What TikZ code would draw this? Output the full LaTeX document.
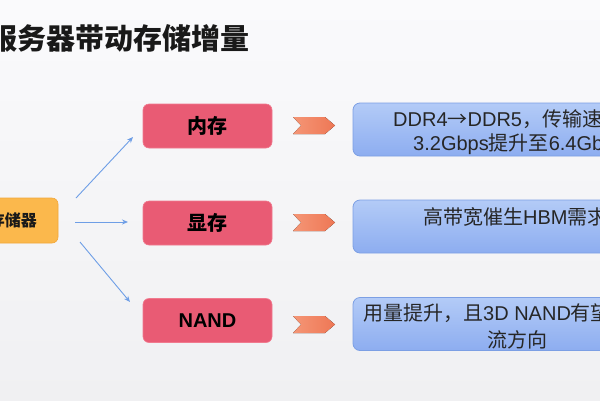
\documentclass[tikz,border=0pt]{standalone}
\usepackage{fontspec}
\setmainfont{Noto Sans CJK SC}
\newfontfamily\lat{Liberation Sans}
\usetikzlibrary{arrows.meta}
\definecolor{bgc}{HTML}{F0F0F2}
\definecolor{bgtop}{HTML}{FAFAFC}
\definecolor{pinkc}{HTML}{E95B74}
\definecolor{pinkedge}{HTML}{F07A8E}
\definecolor{orangec}{HTML}{FBB84C}
\definecolor{orangeedge}{HTML}{F2A73A}
\definecolor{bluetop}{HTML}{B3CBF7}
\definecolor{bluebot}{HTML}{8DADF0}
\definecolor{blueedge}{HTML}{7C9FE4}
\definecolor{arrowc}{HTML}{6E9EE6}
\definecolor{chevl}{HTML}{F59676}
\definecolor{chevr}{HTML}{EE7755}
\tikzset{
  x=1pt, y=-1pt,
  pinkbox/.style={draw=pinkedge, line width=0.6pt, fill=pinkc, rounded corners=6pt, minimum width=129pt, minimum height=44pt, font=\fontsize{20}{20}\selectfont\bfseries, text=black, inner sep=0pt},
  bluebox/.style={draw=blueedge, line width=0.8pt, top color=bluetop, bottom color=bluebot, rounded corners=7pt, minimum width=300pt, minimum height=53pt, inner sep=0pt},
  srcbox/.style={draw=orangeedge, line width=0.6pt, fill=orangec, rounded corners=6pt, minimum width=110pt, minimum height=45pt, inner sep=0pt},
  conn/.style={draw=arrowc, line width=0.9pt, -{Stealth[length=6pt,width=5pt]}},
  boxtext/.style={font=\fontsize{20}{20}\selectfont, text=black!85, inner sep=0pt, anchor=west},
  chev/.style={left color=chevl, right color=chevr, draw=none},
}
\begin{document}
\begin{tikzpicture}
\useasboundingbox (0,0) rectangle (600,400);
\clip (0,0) rectangle (600,400);
\shade[top color=bgtop, bottom color=bgc] (0,0) rectangle (600,400);

% title
\node[anchor=west, inner sep=0pt, font=\fontsize{29}{29}\selectfont\bfseries, text=black!90] (title) at (-12,38) {服务器带动存储增量};

% source box
\node[srcbox] (src) at (3,220.5) {};
\node[anchor=east, inner sep=0pt, font=\fontsize{16}{16}\selectfont\bfseries, text=black!90] (srctext) at (37,220) {存储器};

% pink boxes
\node[pinkbox] (mem) at (207.5,126) {内存};
\node[pinkbox] (vmem) at (207.5,223) {显存};
\node[pinkbox, font=\fontsize{20}{20}\lat\bfseries] (nand) at (207.5,320.5) {NAND};

% connectors
\coordinate (s1) at (76,198);
\coordinate (e1) at (133,137);
\coordinate (s2) at (75,222);
\coordinate (e2) at (128,222);
\coordinate (s3) at (80,242);
\coordinate (e3) at (130,302);
\draw[conn] (s1) -- (e1);
\draw[conn] (s2) -- (e2);
\draw[conn] (s3) -- (e3);

% chevrons
\foreach \cy in {125.5, 222.5, 324.5}{
  \fill[chev] (293,\cy-8.5) -- (325,\cy-8.5) -- (335,\cy) -- (325,\cy+8.5) -- (293,\cy+8.5) -- (301,\cy) -- cycle;
}

% blue boxes
\node[bluebox] (b1) at (503,129.5) {};
\node[bluebox] (b2) at (503,226.5) {};
\node[bluebox] (b3) at (503,324) {};

\node[boxtext] (t1a) at (393,119) {{\lat DDR4}→{\lat DDR5}，传输速};
\node[boxtext] (t1b) at (413,144) {{\lat 3.2Gbps}提升至{\lat 6.4Gb}};
\node[boxtext] (t2a) at (423,217) {高带宽催生{\lat HBM}需求};
\node[boxtext] (t3a) at (363,313) {用量提升，且{\lat 3D NAND}有望};
\node[boxtext] (t3b) at (487,340) {流方向};
\end{tikzpicture}
\end{document}
